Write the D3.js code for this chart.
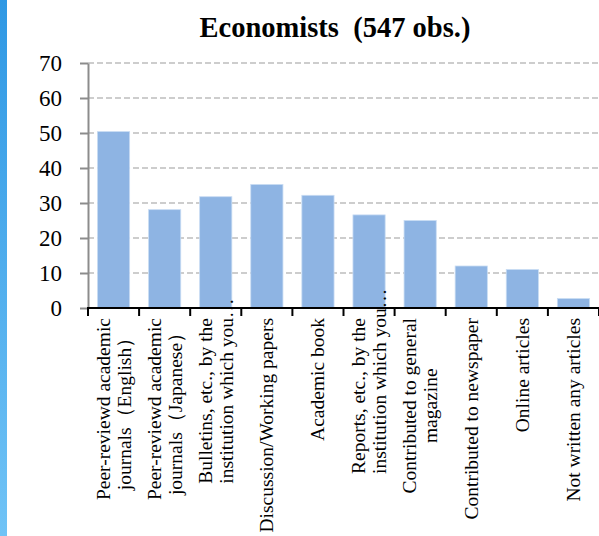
<!DOCTYPE html>
<html>
<head>
<meta charset="utf-8">
<script src="https://cdn.jsdelivr.net/npm/d3@7"></script>
<style>
  html, body { margin: 0; padding: 0; background: #fff; }
  svg { display: block; }
  svg text { font-family: "Liberation Serif", "Times New Roman", serif; }
</style>
</head>
<body>
<div id="chart"></div>
<script>
// data
const categories = [
  ["Peer-reviewd academic", "journals（English）"],
  ["Peer-reviewd academic", "journals（Japanese）"],
  ["Bulletins, etc., by the", "institution which you…"],
  ["Discussion/Working papers"],
  ["Academic book"],
  ["Reports, etc., by the", "institution which you…"],
  ["Contributed to general", "magazine"],
  ["Contributed to newspaper"],
  ["Online articles"],
  ["Not written any articles"]
];
const values = [50.4, 28.1, 31.8, 35.3, 32.2, 26.6, 25.0, 12.0, 11.0, 2.7];
const yTicks = [0, 10, 20, 30, 40, 50, 60, 70];
const title = "Economists  (547 obs.)";

const W = 599, H = 536;
const margin = { top: 63, right: 0, bottom: 228, left: 88 };
const width = W - margin.left - margin.right;
const height = H - margin.top - margin.bottom;

const svg = d3.select("#chart").append("svg")
  .attr("width", W)
  .attr("height", H);

// blue strip on the left edge
const grad = svg.append("defs").append("linearGradient")
  .attr("id", "strip").attr("x1", 0).attr("y1", 0).attr("x2", 0).attr("y2", 1);
grad.append("stop").attr("offset", "0%").attr("stop-color", "#2f98e4");
grad.append("stop").attr("offset", "100%").attr("stop-color", "#70c3f6");
svg.append("rect").attr("x", 0).attr("y", 0).attr("width", 7).attr("height", H)
  .attr("fill", "url(#strip)");

const g = svg.append("g").attr("transform", `translate(${margin.left},${margin.top})`);

const x = d3.scaleBand()
  .domain(d3.range(categories.length))
  .range([0, width])
  .paddingInner(0.37)
  .paddingOuter(0.185);

const y = d3.scaleLinear().domain([0, 70]).range([height, 0]);

// gridlines
g.append("g")
  .selectAll("line")
  .data(yTicks.filter(d => d > 0))
  .join("line")
  .attr("x1", 0).attr("x2", width)
  .attr("y1", d => y(d)).attr("y2", d => y(d))
  .attr("stroke", "#bdbdbd")
  .attr("stroke-width", 1.5)
  .attr("stroke-dasharray", "6,3");

// bars
g.append("g")
  .selectAll("rect")
  .data(values)
  .join("rect")
  .attr("x", (d, i) => x(i))
  .attr("y", d => y(d))
  .attr("width", x.bandwidth())
  .attr("height", d => y(0) - y(d))
  .attr("fill", "#8eb4e3")
  .attr("stroke", "#c9dcf3")
  .attr("stroke-width", 0.8);

// y axis
const yAxis = g.append("g")
  .call(d3.axisLeft(y).tickValues(yTicks).tickSize(8).tickSizeOuter(0).tickPadding(18));
yAxis.attr("font-family", null).attr("font-size", null);
yAxis.select(".domain").attr("stroke", "#8c8c8c").attr("stroke-width", 2);
yAxis.selectAll(".tick line").attr("stroke", "#8c8c8c").attr("stroke-width", 2);
yAxis.selectAll(".tick text")
  .style("font-family", "'Liberation Serif', 'Times New Roman', serif")
  .style("font-size", "23px")
  .attr("fill", "#000");

// x axis (ticks at band edges)
const step = x.step();
const edges = d3.range(categories.length + 1).map(i => i * step);
const xAxis = g.append("g").attr("transform", `translate(0,${height})`);
xAxis.append("line")
  .attr("x1", -1).attr("x2", width)
  .attr("stroke", "#000").attr("stroke-width", 2);
xAxis.selectAll(".xt")
  .data(edges)
  .join("line")
  .attr("class", "xt")
  .attr("x1", d => d).attr("x2", d => d)
  .attr("y1", 0).attr("y2", 8)
  .attr("stroke", "#000").attr("stroke-width", 2);

// category labels, rotated
const fontSize = 19.5;
const lineGap = 21;
const labelTop = 10;
categories.forEach((lines, i) => {
  const cx = x(i) + x.bandwidth() / 2;
  const lg = xAxis.append("g")
    .attr("transform", `translate(${cx},${labelTop}) rotate(-90)`);
  const texts = lines.map((t, j) => lg.append("text")
    .attr("y", (j - (lines.length - 1) / 2) * lineGap)
    .attr("dominant-baseline", "central")
    .style("font-size", fontSize + "px")
    .attr("fill", "#000")
    .text(t));
  const lens = texts.map(t => t.node().getComputedTextLength());
  const full = lens.filter((l, j) => !lines[j].endsWith("…"));
  const maxLen = d3.max(full.length ? full : lens);
  texts.forEach((t, j) => {
    if (lines[j].endsWith("…")) {
      t.attr("text-anchor", "start").attr("x", -maxLen);
    } else {
      t.attr("text-anchor", "middle").attr("x", -maxLen / 2);
    }
  });
});

// title
svg.append("text")
  .attr("x", 335)
  .attr("y", 37)
  .attr("text-anchor", "middle")
  .style("font-size", "28.5px")
  .style("font-weight", "bold")
  .style("white-space", "pre")
  .attr("fill", "#000")
  .text(title);
</script>
</body>
</html>
